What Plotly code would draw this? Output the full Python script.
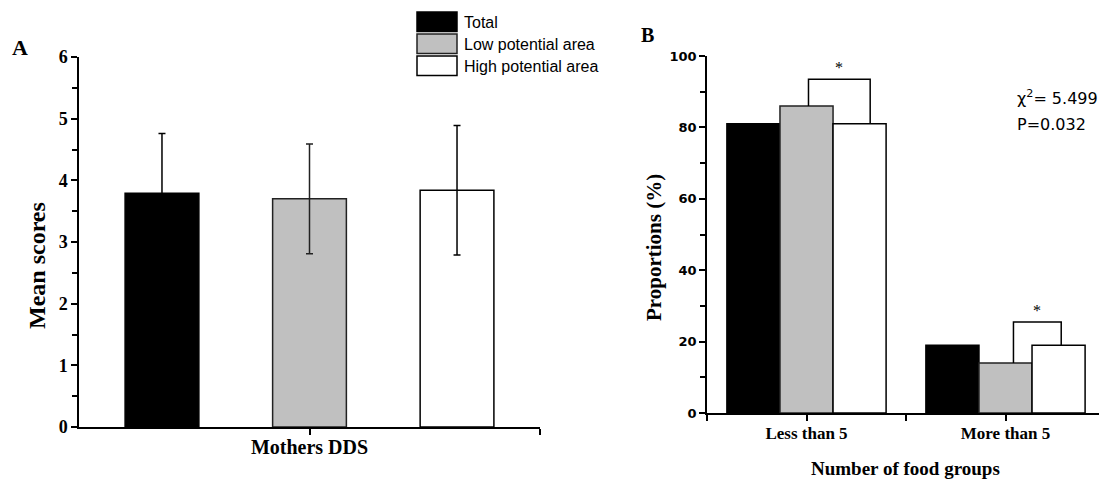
import plotly.graph_objects as go

# ---------------- data ----------------
series = ["Total", "Low potential area", "High potential area"]
fill_colors = ["#000000", "#c0c0c0", "#ffffff"]
edge_colors = ["#000000", "#222222", "#000000"]
err_colors = ["#000000", "#222222", "#000000"]

dds_category = ["Mothers DDS"]
dds_mean = [3.79, 3.70, 3.84]
dds_sd = [0.97, 0.89, 1.05]

food_categories = ["Less than 5", "More than 5"]
prop_total = [81, 19]
prop_low = [86, 14]
prop_high = [81, 19]
props = [prop_total, prop_low, prop_high]

bracket_top = [93.5, 25.5]
chi_line1 = "χ<sup>2</sup>= 5.499"
chi_line2 = "P=0.032"

# the page body adds an 8px margin: size the figure to the remaining area
OFF = 8
W, H = 1107 - OFF, 480 - OFF
def px(x):
    return (x - OFF) / W
def py(y):
    return 1 - (y - OFF) / H

SERIF = "Liberation Serif"
SANS = "Liberation Sans"

fig = go.Figure()

# ---------------- panel A ----------------
a_offsets = [-0.40, -0.08, 0.24]
a_width = 0.16
for i, name in enumerate(series):
    fig.add_trace(go.Bar(
        x=[0], y=[dds_mean[i]], name=name,
        width=a_width, offset=a_offsets[i],
        marker=dict(color=fill_colors[i], line=dict(color=edge_colors[i], width=1.5)),
        error_y=dict(type="data", array=[dds_sd[i]], visible=True,
                     color=err_colors[i], thickness=1.5, width=3.5),
        xaxis="x", yaxis="y", showlegend=False,
    ))

# ---------------- panel B ----------------
b_offsets = [-0.4, -0.1333, 0.1333]
b_width = 0.2667
xcat = list(range(len(food_categories)))
for i, name in enumerate(series):
    fig.add_trace(go.Bar(
        x=xcat, y=props[i], name=name,
        width=b_width, offset=b_offsets[i],
        marker=dict(color=fill_colors[i], line=dict(color=edge_colors[i], width=1.5)),
        xaxis="x2", yaxis="y2", showlegend=False,
    ))

# significance brackets (between low & high potential bars)
br_left = [0.01, 0.04]
br_right = [0.32, 0.28]
for g in xcat:
    xl, xr = g + br_left[g], g + br_right[g]
    fig.add_trace(go.Scatter(
        x=[xl, xl, xr, xr],
        y=[prop_low[g], bracket_top[g], bracket_top[g], prop_high[g]],
        mode="lines", line=dict(color="black", width=1.5),
        xaxis="x2", yaxis="y2", showlegend=False, hoverinfo="skip",
    ))

annotations = []
for g in xcat:
    annotations.append(dict(
        x=g + (br_left[g] + br_right[g]) / 2, y=bracket_top[g] + 0.3,
        xref="x2", yref="y2", text="*", showarrow=False,
        xanchor="center", yanchor="bottom", font=dict(family=SERIF, size=16, color="black"),
    ))

def ann(x, y, text, font, xanchor="center", yanchor="middle", **kw):
    d = dict(x=px(x), y=py(y), xref="paper", yref="paper", text=text, showarrow=False,
             xanchor=xanchor, yanchor=yanchor, font=font)
    d.update(kw)
    annotations.append(d)

# chi-square text
ann(1015, 97, chi_line1, dict(family="DejaVu Sans", size=16, color="black"), xanchor="left")
ann(1015, 124, chi_line2, dict(family="DejaVu Sans", size=16, color="black"), xanchor="left")

# panel letters
ann(20, 47, "A", dict(family=SERIF, size=22, color="black", weight="bold"))
ann(647, 35, "B", dict(family=SERIF, size=20, color="black", weight="bold"))

# axis titles
ann(37, 266, "Mean scores", dict(family=SERIF, size=24, color="black", weight="bold"), textangle=-90)
ann(654, 248, "Proportions (%)", dict(family=SERIF, size=21, color="black", weight="bold"), textangle=-90)
ann(906, 468, "Number of food groups", dict(family=SERIF, size=19, color="black", weight="bold"))

# custom legend
shapes = []
box_top = [12, 34, 56]
for i, name in enumerate(series):
    shapes.append(dict(type="rect", xref="paper", yref="paper",
                       x0=px(417), x1=px(457), y0=py(box_top[i] + 19.5), y1=py(box_top[i]),
                       fillcolor=fill_colors[i], line=dict(color=edge_colors[i], width=1.5)))
    ann(462, box_top[i] + 10, name, dict(family=SANS, size=16, color="black"), xanchor="left")

axis_common = dict(showline=True, linecolor="black", linewidth=1.5, ticks="outside",
                   tickcolor="black", tickwidth=1.5, ticklen=6, showgrid=False, zeroline=False,
                   fixedrange=True, automargin=False)

fig.update_layout(
    width=W, height=H,
    autosize=False,
    margin=dict(l=0, r=0, t=0, b=0, pad=0, autoexpand=False),
    paper_bgcolor="white", plot_bgcolor="white",
    barmode="overlay",
    showlegend=False,
    xaxis=dict(domain=[px(79), px(540)], range=[-0.5, 0.5], tickvals=[0], ticktext=dds_category,
               minor=dict(tickvals=[0.5], ticks="outside", ticklen=6, tickcolor="black", tickwidth=1.5),
               tickfont=dict(family=SERIF, size=20, color="black", weight="bold"),
               ticklabelstandoff=-5, anchor="y", **axis_common),
    yaxis=dict(domain=[py(427), py(57)], range=[0, 6], dtick=1, tick0=0,
               minor=dict(dtick=0.5, ticks="outside", ticklen=5, tickcolor="black", tickwidth=1.5),
               tickfont=dict(family=SERIF, size=18, color="black", weight="bold"),
               anchor="x", **axis_common),
    xaxis2=dict(domain=[px(707), px(1105)], range=[-0.5, 1.5], tickvals=xcat, ticktext=food_categories,
                minor=dict(tickvals=[-0.5, 0.5, 1.5], ticks="outside", ticklen=6, tickcolor="black", tickwidth=1.5),
                tickfont=dict(family=SERIF, size=17, color="black", weight="bold"),
                ticklabelstandoff=-2, anchor="y2", **axis_common),
    yaxis2=dict(domain=[py(413), py(56)], range=[0, 100], dtick=20, tick0=0,
                minor=dict(dtick=10, ticks="outside", ticklen=5, tickcolor="black", tickwidth=1.5),
                tickfont=dict(family="DejaVu Sans", size=13, color="black", weight="bold"),
                anchor="x2", **axis_common),
    annotations=annotations,
    shapes=shapes,
)

fig.write_html("out.html")
